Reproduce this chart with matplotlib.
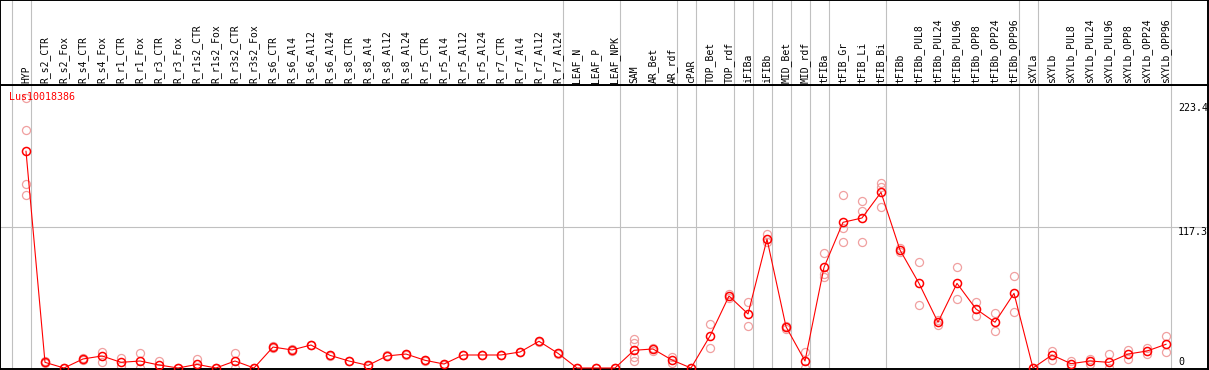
import matplotlib
matplotlib.use("Agg")
import matplotlib.pyplot as plt
import matplotlib.transforms as mtransforms

W, H = 1209, 370

gene = "Lus10018386"

samples = [
    "HYP",
    "R_s2_CTR", "R_s2_Fox", "R_s4_CTR", "R_s4_Fox", "R_r1_CTR", "R_r1_Fox",
    "R_r3_CTR", "R_r3_Fox", "R_r1s2_CTR", "R_r1s2_Fox", "R_r3s2_CTR", "R_r3s2_Fox",
    "R_s6_CTR", "R_s6_Al4", "R_s6_Al12", "R_s6_Al24",
    "R_s8_CTR", "R_s8_Al4", "R_s8_Al12", "R_s8_Al24",
    "R_r5_CTR", "R_r5_Al4", "R_r5_Al12", "R_r5_Al24",
    "R_r7_CTR", "R_r7_Al4", "R_r7_Al12", "R_r7_Al24",
    "LEAF_N", "LEAF_P", "LEAF_NPK",
    "SAM", "AR_Bet", "AR_rdf", "cPAR", "TOP_Bet", "TOP_rdf",
    "iFIBa", "iFIBb", "MID_Bet", "MID_rdf",
    "tFIBa", "tFIB_Gr", "tFIB_Li", "tFIB_Bi",
    "tFIBb", "tFIBb_PUL8", "tFIBb_PUL24", "tFIBb_PUL96",
    "tFIBb_OPP8", "tFIBb_OPP24", "tFIBb_OPP96",
    "sXYLa", "sXYLb", "sXYLb_PUL8", "sXYLb_PUL24", "sXYLb_PUL96",
    "sXYLb_OPP8", "sXYLb_OPP24", "sXYLb_OPP96",
]

means = [
    180.0,
    4.7, 0.0, 7.5, 10.0, 4.7, 5.8, 2.5, 0.0, 3.0, 0.0, 5.8, 0.0,
    17.4, 15.0, 19.1, 10.5, 5.8, 2.2, 10.0, 11.6,
    6.4, 3.3, 10.8, 10.8, 10.8, 13.3, 22.2, 12.2,
    0.0, 0.0, 0.0,
    14.7, 15.8, 6.6, 0.0, 26.6, 59.8,
    44.9, 107.0, 34.3, 5.8,
    83.6, 121.0, 124.6, 145.9,
    98.0, 70.3, 38.0, 70.3, 49.0, 38.0, 62.0,
    0.0, 10.8, 3.6, 5.8, 4.7, 11.6, 14.1, 19.7,
]

replicates = [
    [224.0, 198.0, 153.0, 144.0],
    [5.5, 4.0], [0.0, 0.0], [8.3, 6.7], [13.0, 5.3], [8.0, 2.0], [12.2, 0.0],
    [5.8, 0.0], [0.0, 0.0], [7.5, 0.0], [0.0, 0.0], [12.4, 0.0], [0.0, 0.0],
    [18.0, 16.8], [15.5, 14.5], [19.5, 18.7], [11.0, 10.0],
    [6.2, 5.4], [2.6, 1.8], [10.4, 9.6], [12.0, 11.2],
    [6.8, 6.0], [3.7, 2.9], [11.2, 10.4], [11.2, 10.4],
    [11.2, 10.4], [13.7, 12.9], [22.6, 21.8], [12.6, 11.8],
    [0.0, 0.0], [0.0, 0.0], [0.0, 0.0],
    [24.0, 20.5, 9.0, 5.8], [16.5, 14.0], [8.9, 3.9], [0.0, 0.0],
    [36.3, 16.4], [61.5, 58.0],
    [54.8, 34.9], [111.0, 104.9], [35.2, 32.7], [13.5, 0.0],
    [95.3, 78.0, 75.8], [143.7, 116.0, 104.4], [138.5, 130.4, 104.4],
    [153.4, 150.6, 133.9],
    [100.0, 96.0], [87.8, 52.0], [39.9, 36.0], [83.6, 57.3],
    [54.6, 43.0], [45.4, 30.5], [76.2, 46.8],
    [0.0, 0.0], [14.1, 6.6], [5.5, 0.5], [7.8, 3.3], [11.6, 0.0],
    [15.2, 7.2], [16.4, 12.0], [26.6, 13.0],
]

# last sample index of each group (separator lines drawn just after them)
group_ends = [-1, 0, 28, 31, 34, 35, 37, 38, 39, 40, 41, 42, 45, 52, 53, 60]

y_ticks = [223.4, 117.3, 0]
y_tick_labels = ["223.4", "117.3", "0"]

RED = "#ff0000"
PINK = "#f0a0a0"
GRID = "#c0c0c0"
FONT = "DejaVu Sans Mono"

# pixel layout: sample i sits at x = 26 + 19*i, value 0 at y = 368, 1.204 px per unit
x0, dx = 26.0, 19.0
y_zero, py = 368.0, 1.204
right_px = 1208
head_px = 85
bottom_px = 369

xlim = ((0 - x0) / dx, (right_px - x0) / dx)
ylim = ((y_zero - bottom_px) / py, (y_zero - head_px) / py)

fig = plt.figure(figsize=(W / 100, H / 100), dpi=100)
fig.patch.set_facecolor("white")

ax = fig.add_axes([0, (H - bottom_px) / H, right_px / W, (bottom_px - head_px) / H])
head = fig.add_axes([0, (H - head_px) / H, right_px / W, head_px / H])

for a in (ax, head):
    a.set_xlim(*xlim)
    a.set_xticks([])
    a.set_yticks([])
    for s in a.spines.values():
        s.set_color("black")
        s.set_linewidth(1.4)
    for g in group_ends:
        a.axvline(g + 0.24, color=GRID, lw=0.8, zorder=0)

ax.set_ylim(*ylim)
head.set_ylim(0, 1)
ax.axhline(y_ticks[1], color=GRID, lw=0.8, zorder=0)

xs = list(range(len(samples)))

# replicate measurements
for i, reps in enumerate(replicates):
    ax.plot([i] * len(reps), reps, ls="none", marker="o", ms=5.8,
            mfc="none", mec=PINK, mew=0.9, zorder=2, clip_on=False)

# mean profile
ax.plot(xs, means, color=RED, lw=0.8, marker="o", ms=5.8,
        mfc="none", mec=RED, mew=1.1, zorder=3, clip_on=False)

# vertical sample labels in the header
tr = mtransforms.blended_transform_factory(head.transData, head.transAxes)
for i, name in enumerate(samples):
    head.text(i, (head_px - 83) / head_px, name, transform=tr, rotation=90,
              ha="center", va="bottom", fontsize=7, family=FONT, color="black")

fig.text(9 / W, (H - 97) / H, gene, color=RED, fontsize=7.2, family=FONT,
         ha="left", va="center")

label_y = [108, 232, 362]
for lab, ypx in zip(y_tick_labels, label_y):
    fig.text(1178 / W, (H - ypx) / H, lab, fontsize=7.2, family=FONT,
             ha="left", va="center", color="black")

fig.savefig("out.png", dpi=100)
plt.close(fig)
